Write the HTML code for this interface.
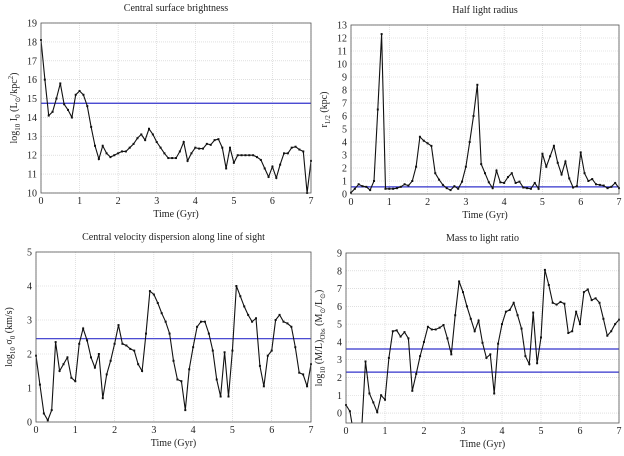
<!DOCTYPE html>
<html><head><meta charset="utf-8"><style>
body{margin:0;background:#fff}
svg text{font-family:"Liberation Serif",serif;fill:#222}
</style></head><body>
<svg id="s" width="624" height="451" xmlns="http://www.w3.org/2000/svg"></svg>
<script>
const times=[];for(let i=0;i<=70;i++)times.push(+(i/10).toFixed(1));
const sbValues=[18.1,16,14.1,14.3,15.0,15.8,14.7,14.4,14.0,15.2,15.4,15.2,14.6,13.5,12.5,11.8,12.5,12.1,11.9,12.0,12.1,12.2,12.2,12.4,12.6,12.9,13.1,12.8,13.4,13.1,12.7,12.4,12.1,11.85,11.85,11.85,12.2,12.7,11.7,12.1,12.4,12.35,12.35,12.6,12.55,12.8,12.85,12.4,11.3,12.4,11.6,12.0,12.0,12.0,12.0,12.0,11.9,11.75,11.3,10.85,11.4,10.8,11.5,12.1,12.1,12.4,12.45,12.3,12.2,10.0,11.7];
const rhValues=[0.1,0.4,0.75,0.6,0.55,0.3,1.0,6.5,12.3,0.4,0.4,0.4,0.45,0.55,0.75,0.65,1.0,2.1,4.4,4.1,3.9,3.7,1.6,1.1,0.7,0.45,0.3,0.6,0.4,0.95,2.1,4.0,6.0,8.4,2.3,1.6,0.9,0.45,1.8,0.9,0.85,1.3,1.6,0.85,0.95,0.5,0.45,0.4,0.85,0.4,3.1,2.1,2.9,3.7,2.4,1.5,2.5,1.2,0.5,0.6,3.2,1.6,1.0,1.15,0.75,0.7,0.65,0.45,0.55,0.85,0.45];
const sigValues=[1.95,1.1,0.25,0.05,0.35,2.35,1.5,1.7,1.9,1.3,1.2,2.3,2.75,2.4,1.9,1.6,2.0,0.7,1.4,1.8,2.3,2.85,2.3,2.25,2.15,2.1,1.7,1.5,2.6,3.85,3.75,3.5,3.2,2.95,2.6,1.8,1.25,1.2,0.35,1.55,2.2,2.8,2.95,2.95,2.6,2.1,1.25,0.75,2.05,0.75,2.1,4.0,3.7,3.4,3.15,2.95,3.05,1.65,1.05,1.95,2.1,3.0,3.15,2.95,2.9,2.8,2.2,1.45,1.4,1.05,1.7];
const mlValues=[0.45,0.1,-1.2,-1.5,-1.0,2.9,1.1,0.6,0.05,1.0,0.75,3.1,4.6,4.65,4.3,4.55,4.2,1.25,2.2,3.2,4.0,4.85,4.7,4.7,4.8,4.95,4.2,3.3,5.5,7.4,6.8,6.0,5.3,4.6,5.2,3.95,3.1,3.3,1.1,3.9,5.0,5.7,5.8,6.2,5.5,4.75,3.2,2.75,5.65,2.8,4.25,8.05,7.2,6.2,6.1,6.25,6.15,4.5,4.6,5.7,5.0,6.8,6.95,6.35,6.45,6.2,5.3,4.35,4.6,5.0,5.25];
const xTicks=[0,1,2,3,4,5,6,7];
const svg=document.getElementById('s');const NS='http://www.w3.org/2000/svg';
function mk(tag,at,parent){const e=document.createElementNS(NS,tag);for(const k in at)e.setAttribute(k,at[k]);(parent||svg).appendChild(e);return e;}
function panel(o){
 const g=mk('g',{});
 
 
 const sx=v=>o.x0+(v-0)/7*(o.x1-o.x0);
 const sy=v=>o.yb-(v-o.ymin)/(o.ymax-o.ymin)*(o.yb-o.yt);
 const cid='c'+o.name;
 const cp=mk('clipPath',{id:cid},g);mk('rect',{x:o.x0,y:o.yt,width:o.x1-o.x0,height:o.yb-o.yt},cp);
 xTicks.forEach(t=>{
  const gl=mk('line',{x1:sx(t),x2:sx(t),y1:o.yt,y2:o.yb,stroke:'#ccc','stroke-width':0.6,'stroke-dasharray':'1,1'},g);
  
  
  const tl=mk('text',{x:sx(t),y:o.yb+11,'font-size':10,'text-anchor':'middle'},g);tl.textContent=t;
  
  
 });
 o.yTicks.forEach(t=>{
  const gl=mk('line',{x1:o.x0,x2:o.x1,y1:sy(t),y2:sy(t),stroke:'#ccc','stroke-width':0.6,'stroke-dasharray':'1,1'},g);
  
  
  const tl=mk('text',{x:o.x0-4,y:sy(t)+3.5,'font-size':10,'text-anchor':'end'},g);tl.textContent=t;
  
  
 });
 o.refs.forEach(r=>{
  const l=mk('line',{x1:o.x0,x2:o.x1,y1:sy(r),y2:sy(r),stroke:'#3333cc','stroke-width':1.2},g);
  
  
 });
 const d=times.map((t,i)=>(i?'L':'M')+sx(t).toFixed(1)+','+sy(o.vals[i]).toFixed(1)).join('');
 const p=mk('path',{d:d,fill:'none',stroke:'#111','stroke-width':1.1,'clip-path':'url(#'+cid+')'},g);
 
 
 times.forEach((t,i)=>{const v=o.vals[i];if(v<o.ymin||v>o.ymax)return;
  const m=mk('rect',{x:sx(t)-1,y:sy(v)-1,width:2,height:2,fill:'#111'},g);
  
  });
 const fr=mk('rect',{x:o.x0,y:o.yt,width:o.x1-o.x0,height:o.yb-o.yt,fill:'none',stroke:'#555','stroke-width':0.8},g);
 
 
 const ti=mk('text',{x:(o.x0+o.x1)/2,y:o.yt-12,'font-size':10,'text-anchor':'middle'},g);ti.textContent=o.title;
 
 
 const xl=mk('text',{x:(o.x0+o.x1)/2,y:o.yb+24,'font-size':10,'text-anchor':'middle'},g);xl.textContent='Time (Gyr)';
 
 
 const yl=mk('text',{transform:'translate('+(o.x0-24)+','+((o.yt+o.yb)/2)+') rotate(-90)','font-size':10,'text-anchor':'middle'},g);
 yl.innerHTML=o.ylab;
 
 
}
panel({name:'surface-brightness-panel',x0:41,x1:311,yt:23,yb:193,ymin:10,ymax:19,yTicks:[10,11,12,13,14,15,16,17,18,19],vals:sbValues,refs:[14.75],title:'Central surface brightness',ylab:'log<tspan font-size="7" dy="3">10</tspan><tspan dy="-3"> I</tspan><tspan font-size="7" dy="3">0</tspan><tspan dy="-3">  (L</tspan><tspan font-size="7" dy="3">⊙</tspan><tspan dy="-3">/kpc</tspan><tspan font-size="7" dy="-4">2</tspan><tspan dy="4">)</tspan>'});
panel({name:'half-light-radius-panel',x0:351,x1:619,yt:25,yb:194,ymin:0,ymax:13,yTicks:[0,1,2,3,4,5,6,7,8,9,10,11,12,13],vals:rhValues,refs:[0.55],title:'Half light radius',ylab:'r<tspan font-size="7" dy="3">1/2</tspan><tspan dy="-3">  (kpc)</tspan>'});
panel({name:'velocity-dispersion-panel',x0:36,x1:311,yt:252,yb:422,ymin:0,ymax:5,yTicks:[0,1,2,3,4,5],vals:sigValues,refs:[2.45],title:'Central velocity dispersion along line of sight',ylab:'log<tspan font-size="7" dy="3">10</tspan><tspan dy="-3"> σ</tspan><tspan font-size="7" dy="3">0</tspan><tspan dy="-3">  (km/s)</tspan>'});
panel({name:'mass-to-light-panel',x0:346,x1:619,yt:253,yb:423,ymin:-0.56,ymax:9,yTicks:[0,1,2,3,4,5,6,7,8,9],vals:mlValues,refs:[3.6,2.3],title:'Mass to light ratio',ylab:'log<tspan font-size="7" dy="3">10</tspan><tspan dy="-3"> (M/L)</tspan><tspan font-size="7" dy="3">Obs</tspan><tspan dy="-3">  (M</tspan><tspan font-size="7" dy="3">⊙</tspan><tspan dy="-3">/L</tspan><tspan font-size="7" dy="3">⊙</tspan><tspan dy="-3">)</tspan>'});
</script>
</body></html>
